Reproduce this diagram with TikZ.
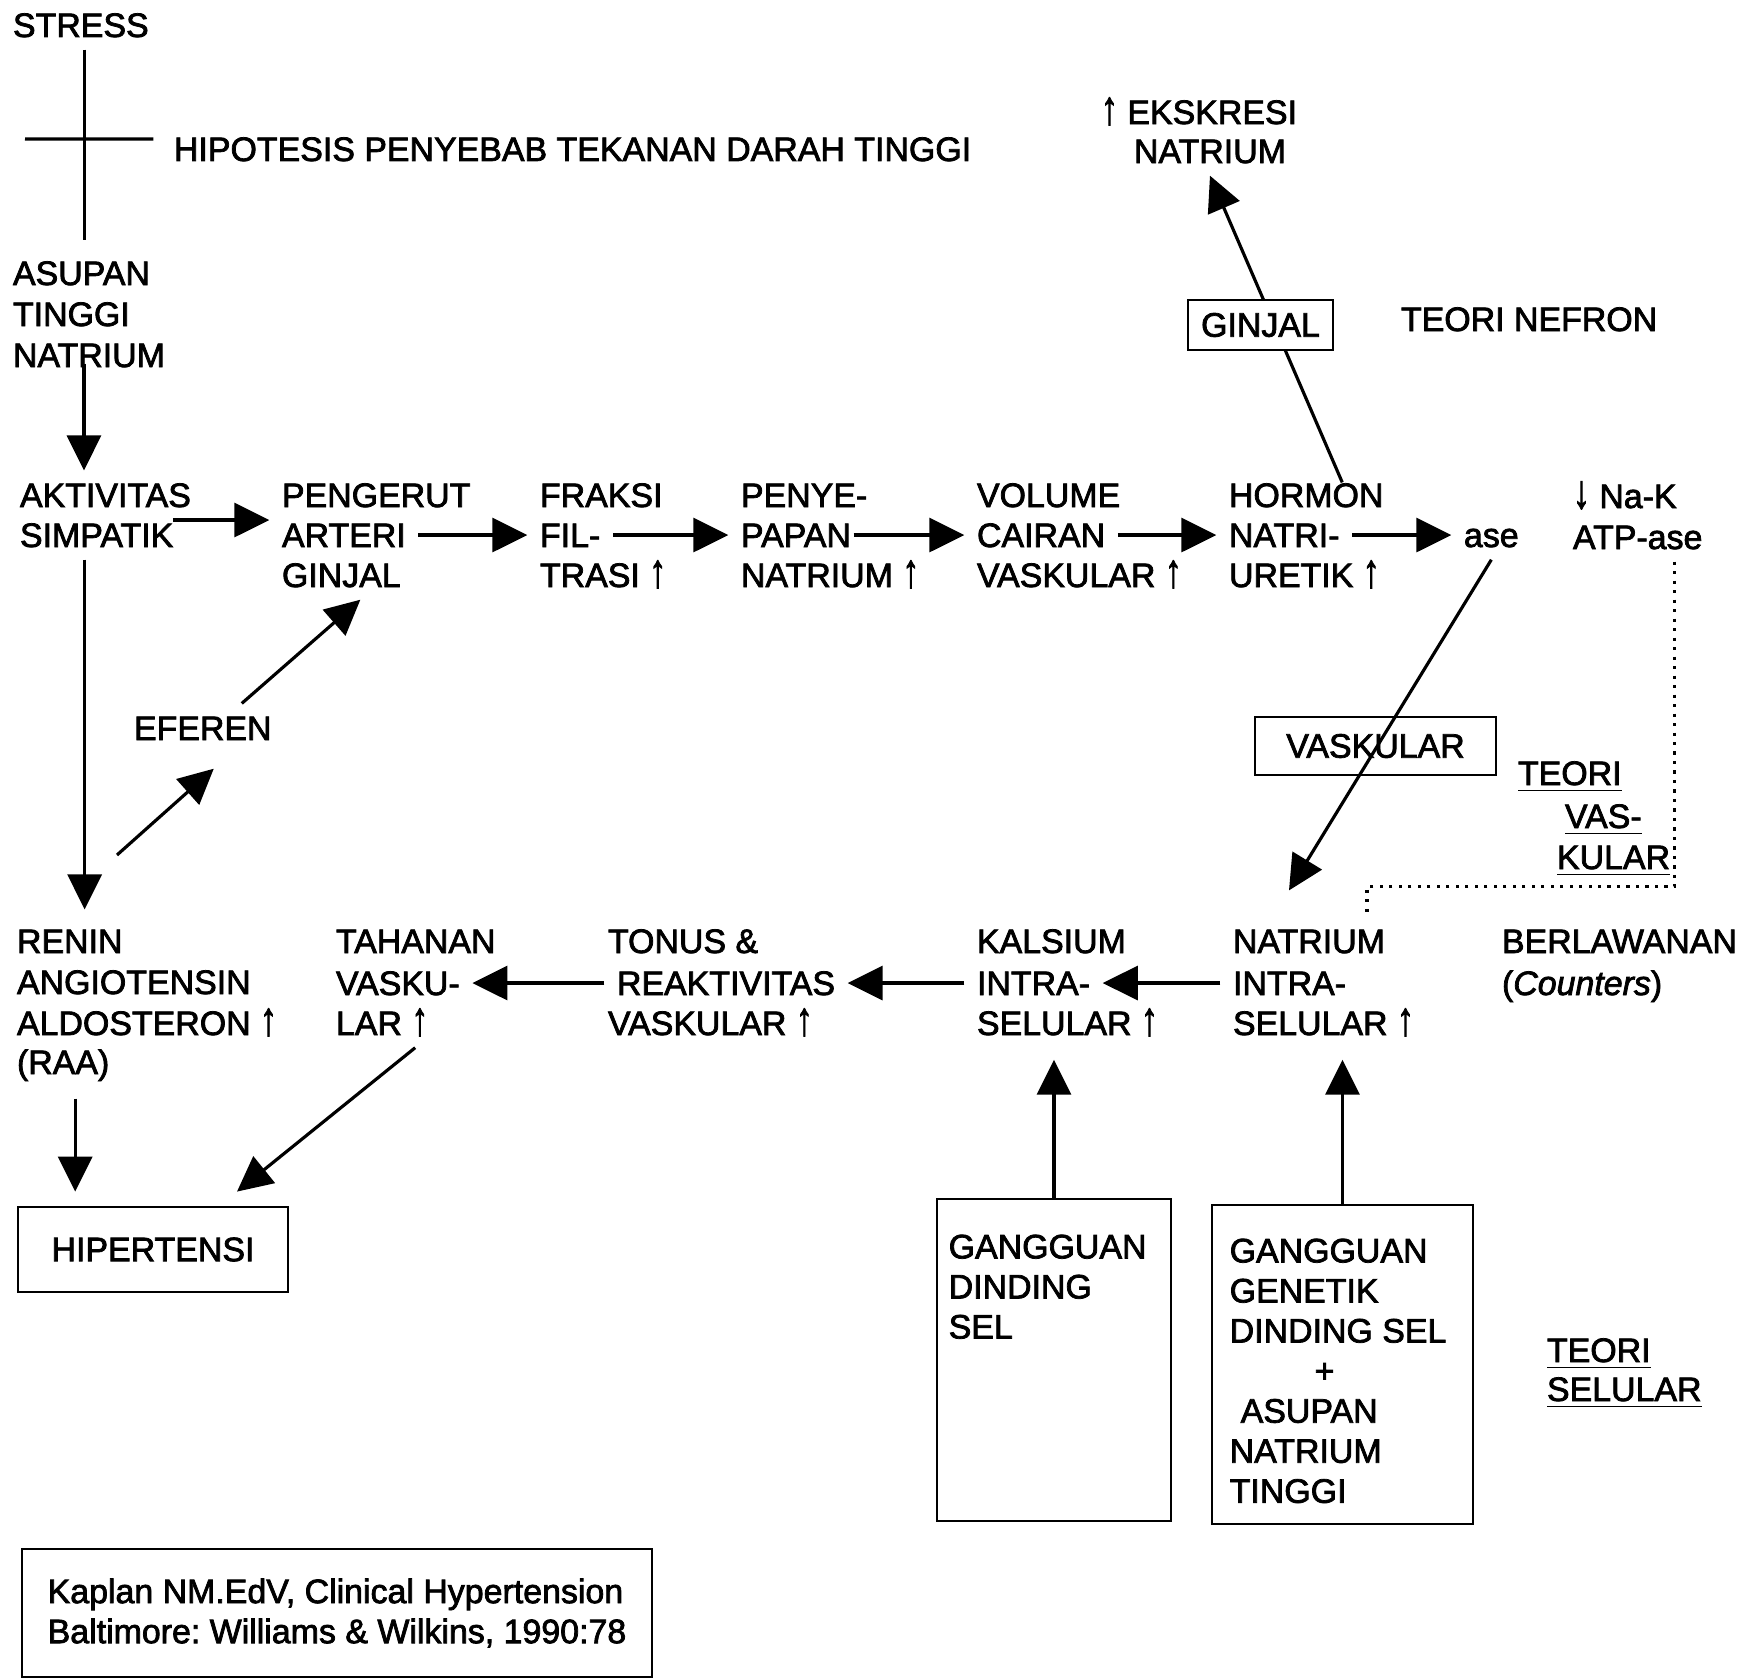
\documentclass[tikz,border=0pt]{standalone}
\usepackage{fontspec}
\usepackage{graphicx}
\setmainfont{Liberation Sans}[FakeBold=2.2]
\frenchspacing
\usetikzlibrary{arrows.meta}
\usetikzlibrary{calc}
\newcommand{\upar}{\scalebox{1}[1.4]{↑}}
\newcommand{\dnar}{\scalebox{1}[1.4]{↓}}
\tikzset{
    lbl/.style={
        anchor=text,
        inner sep=0.12cm,
        text height=6.8pt,
        text depth=0pt,
        font=\fontsize{9.65}{11.4}\selectfont
    },
    blk/.style={
        align=left,
        inner sep=0pt,
        font=\fontsize{9.65}{11.4}\selectfont
    },
    box/.style={
        draw,
        line width=0.8pt,
        inner sep=2pt,
        font=\fontsize{9.65}{11.4}\selectfont
    },
    arr/.style={
        -{Triangle[length=3.5mm, width=3.4mm]},
        line width=0.9pt
    },
    dotline/.style={
        line width=0.9pt,
        dash pattern=on 0.9pt off 1.8pt
    }
}

\begin{document}
\begin{tikzpicture}
  \useasboundingbox (0,0) rectangle (17.57,-16.80);

  % Title cross
  \node[lbl] (stress) at (0.13,-0.37) {STRESS};
  \node[lbl] (hipo) at (1.74,-1.61) {HIPOTESIS PENYEBAB TEKANAN DARAH TINGGI};
  \node[lbl] (asup) at (0.13,-2.85) {ASUPAN};
  \node[lbl] (tinggi) at (0.13,-3.26) {TINGGI};
  \node[lbl] (asnat) at (0.13,-3.67) {NATRIUM};
  \draw[line width=0.9pt] ([xshift=0.04cm]stress.south) -- ($(stress.south |- asup.north)+(0.04,0.08)$);
  \draw[line width=0.9pt] (0.25,-1.39) -- ([xshift=-0.08cm,yshift=0.1cm]hipo.west);

  % Upper row
  \node[lbl] (aktiv) at (0.20,-5.07) {AKTIVITAS};
  \node[lbl] (simp) at (0.20,-5.47) {SIMPATIK};
  \node[lbl] (peng) at (2.82,-5.07) {PENGERUT};
  \node[lbl] (arteri) at (2.82,-5.47) {ARTERI};
  \node[lbl] (pgin) at (2.82,-5.87) {GINJAL};
  \node[lbl] (fraksi) at (5.40,-5.07) {FRAKSI};
  \node[lbl] (fil) at (5.40,-5.47) {FIL-};
  \node[lbl] (trasi) at (5.40,-5.87) {TRASI \upar};
  \node[lbl] (penye) at (7.41,-5.07) {PENYE-};
  \node[lbl] (papan) at (7.41,-5.47) {PAPAN};
  \node[lbl] (pnat) at (7.41,-5.87) {NATRIUM \upar};
  \node[lbl] (volume) at (9.77,-5.07) {VOLUME};
  \node[lbl] (cairan) at (9.77,-5.47) {CAIRAN};
  \node[lbl] (vvol) at (9.77,-5.87) {VASKULAR \upar};
  \node[lbl] (hormon) at (12.29,-5.07) {HORMON};
  \node[lbl] (natri) at (12.29,-5.47) {NATRI-};
  \node[lbl] (uretik) at (12.29,-5.87) {URETIK \upar};
  \node[lbl] (ase) at (14.64,-5.47) {ase};
  \node[lbl] (nak) at (15.73,-5.08) {\dnar\ Na-K};
  \node[lbl] (atp) at (15.73,-5.49) {ATP-ase};

  % Nephron theory
  \node[lbl] (eks) at (11.01,-1.24) {\upar\ EKSKRESI};
  \node[lbl] (eksnat) at (11.34,-1.63) {NATRIUM};
  \node[lbl] (nefron) at (14.01,-3.31) {TEORI NEFRON};

  % Vascular theory
  \node[lbl] (tv1) at (15.18,-7.85) {\underline{TEORI}};
  \node[lbl] (tv2) at (15.65,-8.28) {\underline{VAS-}};
  \node[lbl] (tv3) at (15.57,-8.69) {\underline{KULAR}};

  % Lower row
  \node[lbl] (berl) at (15.02,-9.53) {BERLAWANAN};
  \node[lbl] (count) at (15.02,-9.95) {(\textit{Counters})};
  \node[lbl] (natin) at (12.33,-9.53) {NATRIUM};
  \node[lbl] (natintra) at (12.33,-9.95) {INTRA-};
  \node[lbl] (natsel) at (12.33,-10.35) {SELULAR \upar};
  \node[lbl] (kal) at (9.77,-9.53) {KALSIUM};
  \node[lbl] (kalintra) at (9.77,-9.95) {INTRA-};
  \node[lbl] (kalsel) at (9.77,-10.35) {SELULAR \upar};
  \node[lbl] (tonus) at (6.08,-9.53) {TONUS \&};
  \node[lbl] (reakt) at (6.17,-9.95) {REAKTIVITAS};
  \node[lbl] (vtonus) at (6.08,-10.35) {VASKULAR \upar};
  \node[lbl] (tahanan) at (3.36,-9.53) {TAHANAN};
  \node[lbl] (vasku) at (3.36,-9.95) {VASKU-};
  \node[lbl] (lar) at (3.36,-10.35) {LAR \upar};
  \node[lbl] (renin) at (0.17,-9.53) {RENIN};
  \node[lbl] (angio) at (0.17,-9.94) {ANGIOTENSIN};
  \node[lbl] (aldo) at (0.17,-10.35) {ALDOSTERON \upar};
  \node[lbl] (raa) at (0.17,-10.74) {(RAA)};
  \node[lbl] (eferen) at (1.34,-7.40) {EFEREN};

  % Boxes
  \node[box, minimum width=2.70cm, minimum height=0.85cm] (hip) at (1.53,-12.495) {HIPERTENSI};
  \node[box, minimum width=2.34cm, minimum height=3.22cm] (gds) at (10.54,-13.60) {};
  \node[box, minimum width=2.61cm, minimum height=3.19cm] (gdg) at (13.425,-13.645) {};
  \node[blk, anchor=north west] (gdstext) at (9.48,-12.34) {GANGGUAN\\DINDING\\SEL};
  \node[blk, anchor=north west] (gdgtext) at (12.29,-12.38)
    {GANGGUAN\\GENETIK\\DINDING SEL\\\hspace*{0.85cm}+\\\hspace*{0.11cm}ASUPAN\\NATRIUM\\TINGGI};
  \node[lbl] (ts1) at (15.47,-13.62) {\underline{TEORI}};
  \node[lbl] (ts2) at (15.47,-14.01) {\underline{SELULAR}};
  \node[box, align=left, minimum width=6.30cm, minimum height=1.28cm] (cite) at (3.37,-16.13)
    {Kaplan NM.EdV, Clinical Hypertension\\Baltimore: Williams \& Wilkins, 1990:78};

  % Upper row arrows
  \draw[arr] ([xshift=-0.05cm,yshift=0.16cm]asnat.south) -- ($(asnat.south |- aktiv.north)+(-0.05,0)$);
  \draw[arr] ([xshift=-0.13cm,yshift=0.15cm]simp.east) -- ($(simp.east -| peng.west)+(0,0.15)$);
  \draw[arr] (arteri.east) -- (fil.west);
  \draw[arr] (fil.east) -- (papan.west);
  \draw[arr] ([xshift=-0.1cm]papan.east) -- (cairan.west);
  \draw[arr] (cairan.east) -- (natri.west);
  \draw[arr] (natri.east) -- (ase.west);

  % Nephron arrow behind the GINJAL box
  \draw[arr] ([xshift=0.36cm,yshift=-0.12cm]hormon.north) -- (eksnat.south);
  \node[box, fill=white, minimum width=1.45cm, minimum height=0.50cm] (ginjal) at (12.605,-3.25) {GINJAL};

  % Vascular arrow and counters
  \node[box, minimum width=2.41cm, minimum height=0.58cm] (vask) at (13.755,-7.46) {VASKULAR};
  \draw[arr] (ase.south) -- ([xshift=-0.2cm,yshift=0.26cm]natin.north);
  \draw[dotline] ([xshift=0.37cm]atp.south) -- ++(0,-3.25) -| ([xshift=0.58cm]natin.north);

  % Lower row arrows
  \draw[arr] (natintra.west) -- (kalintra.east);
  \draw[arr] (kalintra.west) -- (reakt.east);
  \draw[arr] (reakt.west) -- (vasku.east);

  % Left column
  \draw[arr] ([xshift=-0.12cm]simp.south) -- ($(simp.south |- renin.north)+(-0.12,0.07)$);
  \coordinate (raaout) at (1.17,-8.55);
  \draw[arr] (raaout) -- ([xshift=0.11cm,yshift=-0.16cm]eferen.south);
  \draw[arr] ([xshift=0.39cm]eferen.north) -- ([xshift=0.19cm]pgin.south);
  \draw[arr] ([xshift=0.12cm,yshift=-0.12cm]raa.south) -- ($(raa.south |- hip.north)+(0.12,0.14)$);
  \draw[arr] ([xshift=0.33cm]lar.south) -- ([xshift=0.84cm,yshift=0.14cm]hip.north);

  % Cellular theory
  \draw[arr] (gds.north) -- ($(gds.north |- kalsel.south)+(0,-0.12)$);
  \draw[arr] (gdg.north) -- ($(gdg.north |- natsel.south)+(0,-0.12)$);
\end{tikzpicture}
\end{document}
